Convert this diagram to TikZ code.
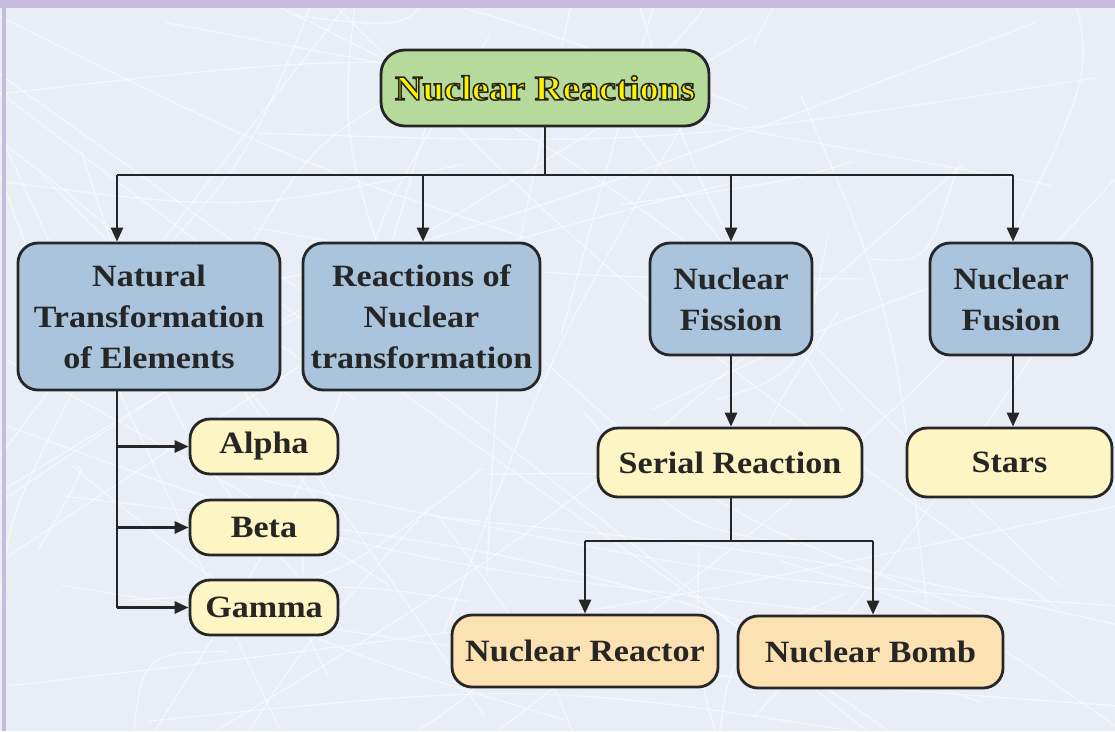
\documentclass[tikz,border=0pt]{standalone}
\usepackage{fontspec}
\setmainfont{Liberation Serif}[FakeStretch=1.1]
\usetikzlibrary{arrows.meta}
\definecolor{bgc}{HTML}{E9EEF6}
\definecolor{barc}{HTML}{C6BADD}
\definecolor{greenc}{HTML}{B6D99C}
\definecolor{bluec}{HTML}{A9C4DC}
\definecolor{yelc}{HTML}{FDF5C4}
\definecolor{orac}{HTML}{FCE1B2}
\definecolor{titley}{HTML}{FFF200}
\newcommand{\outlinedtext}[1]{\textcolor{titley}{\special{pdf:literal direct 2 Tr 1.5 w 0.15 0.15 0.1 RG}#1\special{pdf:literal direct 0 Tr 1 w}}}
\tikzset{
  box/.style={draw=black!85, line width=2.8pt, rounded corners=20pt, align=center,
    inner sep=0pt, font=\fontsize{31}{41}\selectfont\bfseries, text=black!85},
  bluebox/.style={box, fill=bluec},
  yelbox/.style={box, fill=yelc},
  orabox/.style={box, fill=orac},
  conn/.style={line width=2.8pt, draw=black!85},
  arr/.style={conn, -{Triangle[length=14pt,width=12pt]}},
}
\begin{document}
\begin{tikzpicture}[x=1pt,y=-1pt]
\fill[bgc] (0,0) rectangle (1115,731);
\useasboundingbox (0,0) rectangle (1115,731);
\begin{scope}
\clip (0,0) rectangle (1115,731);
\pgfmathsetseed{7}
\foreach \i in {1,...,70}{
  \pgfmathsetmacro{\xa}{rnd*1300-100}
  \pgfmathsetmacro{\ya}{rnd*900-100}
  \pgfmathsetmacro{\xb}{rnd*1300-100}
  \pgfmathsetmacro{\yb}{rnd*900-100}
  \pgfmathsetmacro{\xc}{(\xa+\xb)/2+rnd*120-60}
  \pgfmathsetmacro{\yc}{(\ya+\yb)/2+rnd*120-60}
  \draw[white, opacity=0.5, line width=1.2pt] (\xa,\ya) .. controls (\xc,\yc) .. (\xb,\yb);
}
\end{scope}
\fill[barc] (0,0) rectangle (1115,8);
\fill[barc] (2,0) rectangle (6,731);

\node[box, fill=greenc, minimum width=328pt, minimum height=76pt, rounded corners=24pt,
  font=\fontsize{35}{40}\selectfont\bfseries] (title) at (545,88)
  {\outlinedtext{Nuclear Reactions}};

\node[bluebox, minimum width=262pt, minimum height=147pt] (nat) at (149,316.5)
  {Natural\\Transformation\\of Elements};
\node[bluebox, minimum width=237pt, minimum height=147pt] (rea) at (421.5,316.5)
  {Reactions of\\Nuclear\\transformation};
\node[bluebox, minimum width=162pt, minimum height=112pt] (fis) at (731,299)
  {Nuclear\\Fission};
\node[bluebox, minimum width=162pt, minimum height=112pt] (fus) at (1011,299)
  {Nuclear\\Fusion};

\node[yelbox, minimum width=148pt, minimum height=55pt] (alpha) at (264,446.5) {Alpha};
\node[yelbox, minimum width=148pt, minimum height=55pt] (beta) at (264,527.5) {Beta};
\node[yelbox, minimum width=148pt, minimum height=55pt] (gamma) at (264,607.5) {Gamma};

\node[yelbox, minimum width=264pt, minimum height=69pt] (ser) at (730,462.5) {Serial Reaction};
\node[yelbox, minimum width=205pt, minimum height=69pt] (star) at (1009.5,462.5) {Stars};

\node[orabox, minimum width=266pt, minimum height=72pt] (reac) at (585,651) {Nuclear Reactor};
\node[orabox, minimum width=265pt, minimum height=72pt] (bomb) at (870.5,652) {Nuclear Bomb};

% connectors
\coordinate (j) at (545,175);
\coordinate (k1) at (117,175);
\coordinate (k2) at (423,175);
\coordinate (k3) at (731,175);
\coordinate (k4) at (1013,175);
\draw[conn] (title.south) -- (j);
\draw[conn] (k1) -- (k4);
\draw[arr] (k1) -- (k1 |- nat.north);
\draw[arr] (k2) -- (k2 |- rea.north);
\draw[arr] (k3) -- (k3 |- fis.north);
\draw[arr] (k4) -- (k4 |- fus.north);

\draw[conn] (k1 |- nat.south) -- (k1 |- gamma.west);
\draw[arr] (k1 |- alpha.west) -- (alpha.west);
\draw[arr] (k1 |- beta.west) -- (beta.west);
\draw[arr] (k1 |- gamma.west) -- (gamma.west);

\draw[arr] (fis.south) -- (fis.south |- ser.north);
\draw[arr] (k4 |- fus.south) -- (k4 |- star.north);

\coordinate (s) at (731,541);
\draw[conn] (s |- ser.south) -- (s);
\draw[conn] (585,541) -- (873,541);
\draw[arr] (585,541) -- (reac.north);
\draw[arr] (873,541) -- (873,0 |- bomb.north);
\end{tikzpicture}
\end{document}
